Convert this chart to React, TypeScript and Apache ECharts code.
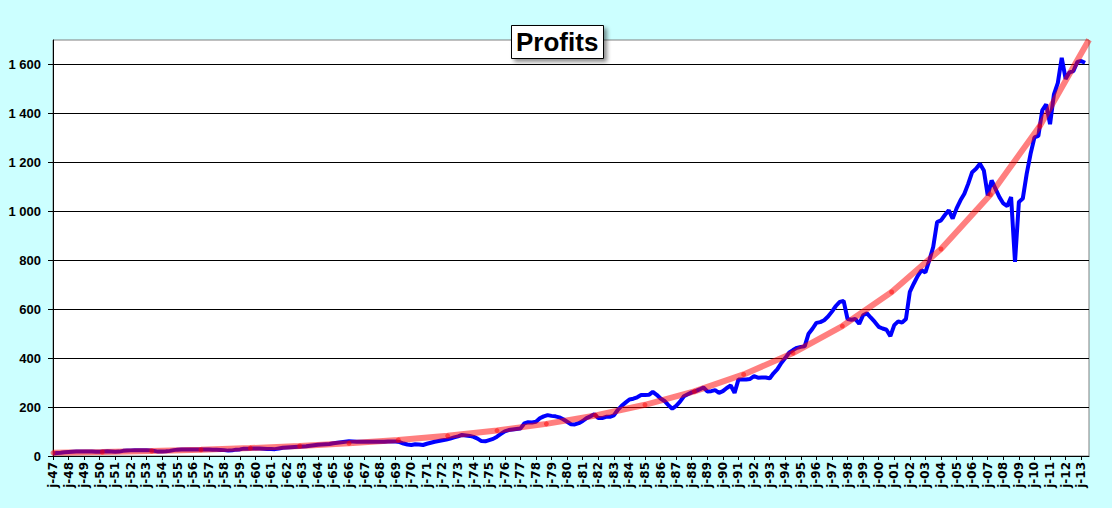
import React, { useEffect, useRef } from "react";
import * as echarts from "echarts";

// Years shown on the x axis (one tick per year, quarterly data)
const years: number[] = [];
for (let y = 1947; y <= 2013; y++) years.push(y);

// Quarterly profits, 1947Q1 .. 2013Q2
const profits: number[] = [
  10, 12, 13, 15, // 1947
  16, 17, 18, 18, // 1948
  18, 18, 18, 17, // 1949
  17, 18, 19, 18, // 1950
  17, 18, 21, 22, // 1951
  23, 24, 24, 24, // 1952
  24, 23, 21, 18, // 1953
  18, 19, 21, 24, // 1954
  26, 27, 27, 27, // 1955
  27, 27, 27, 27, // 1956
  27, 26, 26, 25, // 1957
  24, 22, 23, 26, // 1958
  27, 30, 30, 31, // 1959
  31, 31, 30, 29, // 1960
  29, 28, 31, 34, // 1961
  35, 36, 37, 38, // 1962
  39, 40, 42, 44, // 1963
  46, 47, 48, 49, // 1964
  52, 54, 56, 58, // 1965
  60, 59, 58, 58, // 1966
  58, 58, 58, 58, // 1967
  58, 58, 59, 59, // 1968
  59, 57, 51, 47, // 1969
  45, 48, 47, 45, // 1970
  50, 54, 58, 61, // 1971
  64, 67, 71, 76, // 1972
  80, 86, 84, 82, // 1973
  78, 71, 61, 60, // 1974
  65, 70, 79, 90, // 1975
  101, 106, 108, 110, // 1976
  112, 133, 138, 137, // 1977
  140, 154, 162, 167, // 1978
  164, 162, 158, 150, // 1979
  140, 130, 129, 134, // 1980
  143, 155, 162, 171, // 1981
  155, 155, 160, 160, // 1982
  166, 188, 205, 218, // 1983
  231, 234, 240, 249, // 1984
  249, 250, 262, 250, // 1985
  235, 225, 208, 193, // 1986
  205, 222, 244, 252, // 1987
  260, 265, 272, 280, // 1988
  264, 265, 269, 258, // 1989
  265, 278, 288, 258, // 1990
  313, 313, 313, 315, // 1991
  326, 320, 321, 321, // 1992
  317, 338, 355, 380, // 1993
  400, 422, 433, 442, // 1994
  446, 448, 500, 520, // 1995
  544, 547, 555, 570, // 1996
  590, 613, 630, 634, // 1997
  560, 557, 560, 540, // 1998
  575, 583, 565, 548, // 1999
  528, 521, 516, 490, // 2000
  535, 550, 545, 560, // 2001
  671, 704, 735, 759, // 2002
  750, 800, 854, 956, // 2003
  963, 985, 1004, 970, // 2004
  1012, 1045, 1072, 1113, // 2005
  1160, 1174, 1194, 1167, // 2006
  1065, 1126, 1092, 1058, // 2007
  1032, 1021, 1058, 793, // 2008
  1038, 1052, 1153, 1235, // 2009
  1302, 1308, 1413, 1437, // 2010
  1356, 1478, 1525, 1627, // 2011
  1541, 1568, 1573, 1610, // 2012
  1614, 1607, // 2013
];

// Exponential trend line vertices (quarter index, value)
const trendX: number[] = [
  0, 12.67, 25.33, 38, 50.67, 63.33, 76, 88.67, 101.33, 114, 126.67,
  139.33, 152, 164.67, 177.33, 190, 202.67, 215.33, 228, 240.67, 253.33, 266,
];
const trendY: number[] = [
  12.8, 16.2, 20.4, 25.7, 32.5, 41.0, 51.7, 65.3, 82.4, 104.0, 131.3,
  165.7, 209.2, 264.0, 333.3, 420.7, 531.0, 670.2, 845.9, 1067.7, 1347.7, 1701.1,
];

const yTicks: number[] = [0, 200, 400, 600, 800, 1000, 1200, 1400, 1600];
const lastQuarterIndex = 266;

const FONT = 'Arial, "Liberation Sans", sans-serif';

function fmtThousands(v: number): string {
  if (v >= 1000) {
    return Math.floor(v / 1000) + " " + String(v % 1000).padStart(3, "0");
  }
  return String(v);
}

export default function App() {
  const ref = useRef<HTMLDivElement>(null);

  useEffect(() => {
    if (!ref.current) return;
    const chart = echarts.init(ref.current, null, { renderer: "svg" });
    const xTickValues = years.map((_, k) => k * 4);
    const profitData = profits.map((v, i) => [i, v]);
    const trendData = trendX.map((x, k) => [x, trendY[k]]);

    chart.setOption({
      animation: false,
      backgroundColor: "#CCFFFF",
      title: {
        text: "Profits",
        left: 511,
        top: 25,
        padding: [4, 5],
        backgroundColor: "#ffffff",
        borderColor: "#000000",
        borderWidth: 1,
        shadowColor: "rgba(0,0,0,0.45)",
        shadowBlur: 4,
        shadowOffsetX: 3,
        shadowOffsetY: 3,
        textStyle: {
          fontFamily: FONT,
          fontSize: 26,
          fontWeight: "bold",
          color: "#000000",
        },
        z: 10,
      },
      grid: {
        left: 53,
        right: 23,
        top: 40,
        bottom: 52,
        show: true,
        backgroundColor: "#ffffff",
        borderColor: "#808080",
        borderWidth: 1,
      },
      xAxis: {
        type: "value",
        min: 0,
        max: lastQuarterIndex,
        splitLine: { show: false },
        axisLine: { show: true, onZero: false, lineStyle: { color: "#000", width: 1 } },
        axisTick: {
          show: true,
          length: 4,
          inside: false,
          customValues: xTickValues,
          lineStyle: { color: "#000" },
        },
        axisLabel: {
          customValues: xTickValues,
          rotate: 90,
          margin: 6,
          fontFamily: '"DejaVu Sans", sans-serif',
          fontSize: 12,
          fontWeight: "bold",
          color: "#000",
          formatter: (v: number) => "j-" + String(years[Math.round(v / 4)]).slice(2),
        },
      },
      yAxis: {
        type: "value",
        min: 0,
        max: 1700,
        interval: 200,
        axisLine: { show: true, lineStyle: { color: "#000", width: 1 } },
        axisTick: {
          show: true,
          length: 5,
          inside: false,
          customValues: yTicks,
          lineStyle: { color: "#000" },
        },
        splitLine: { show: true, lineStyle: { color: "#000", width: 1 } },
        axisLabel: {
          customValues: yTicks,
          margin: 12,
          fontFamily: FONT,
          fontSize: 13,
          fontWeight: "bold",
          color: "#000",
          formatter: (v: number) => fmtThousands(v),
        },
      },
      series: [
        {
          name: "Profits",
          type: "line",
          data: profitData,
          showSymbol: false,
          symbol: "none",
          lineStyle: { color: "#0000FF", width: 4 },
          itemStyle: { color: "#0000FF" },
          z: 2,
        },
        {
          name: "Trend",
          type: "line",
          data: trendData,
          symbol: "circle",
          symbolSize: 5,
          showSymbol: true,
          itemStyle: { color: "rgba(255,0,0,0.5)", borderWidth: 0 },
          lineStyle: { color: "rgba(255,0,0,0.5)", width: 6 },
          z: 3,
        },
      ],
    });

    return () => {
      chart.dispose();
    };
  }, []);

  return (
    <div
      ref={ref}
      style={{ position: "absolute", left: 0, top: 0, width: 1112, height: 508 }}
    />
  );
}
